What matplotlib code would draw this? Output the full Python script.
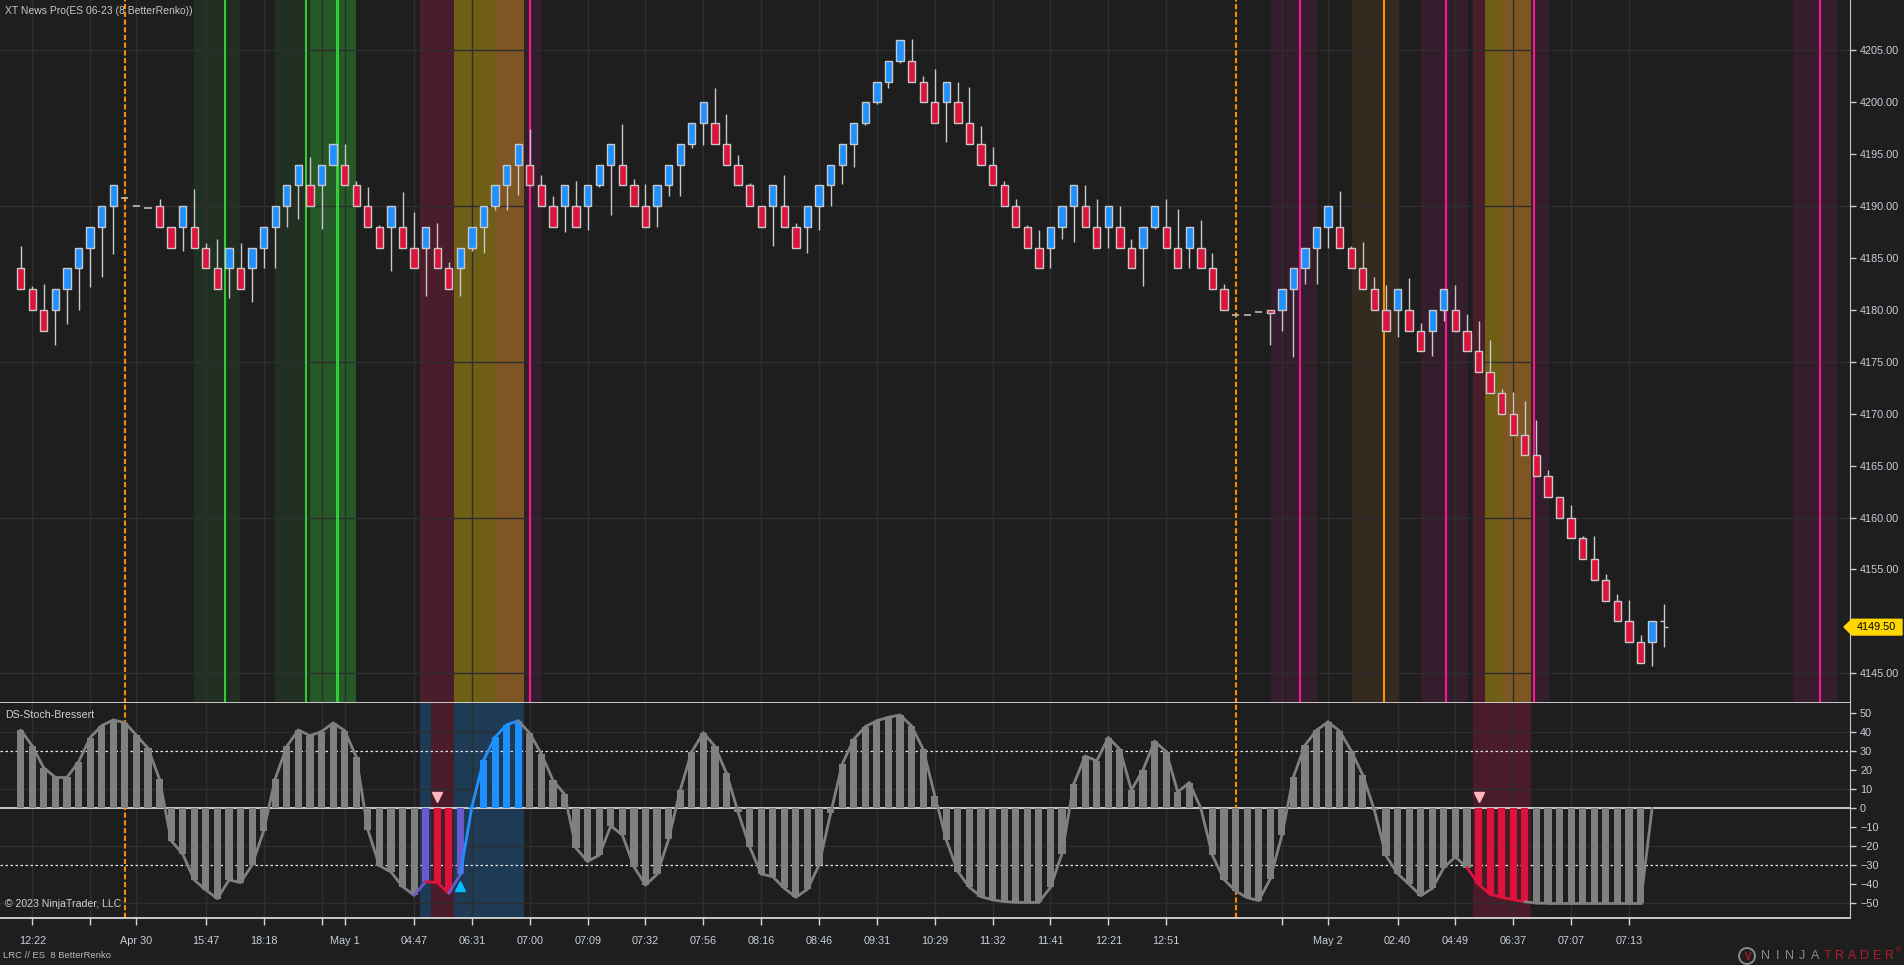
import numpy as np
import matplotlib
matplotlib.use("Agg")
import matplotlib.pyplot as plt
from matplotlib.patches import Rectangle, Polygon, Ellipse
from matplotlib.collections import LineCollection

# renko bricks (ES 06-23, 8 tick BetterRenko)
opens = [4184, 4182, 4180, 4180, 4182, 4184, 4186, 4188, 4190, 4190.8, 4190, 4189.8,
         4190, 4188, 4188, 4188, 4186, 4184, 4184, 4184, 4184, 4186, 4188, 4190, 4192,
         4192, 4192, 4194, 4194, 4192, 4190, 4188, 4188, 4188, 4186, 4186, 4186, 4184,
         4184, 4186, 4188, 4190, 4192, 4194, 4194, 4192, 4190, 4190, 4190, 4190, 4192,
         4194, 4194, 4192, 4190, 4190, 4192, 4194, 4196, 4198, 4198, 4196, 4194, 4192,
         4190, 4190, 4190, 4188, 4188, 4190, 4192, 4194, 4196, 4198, 4200, 4202, 4204,
         4204, 4202, 4200, 4200, 4200, 4198, 4196, 4194, 4192, 4190, 4188, 4186, 4186,
         4188, 4190, 4190, 4188, 4188, 4188, 4186, 4186, 4188, 4188, 4186, 4186, 4186,
         4184, 4182, 4179.5, 4179.5, 4179.8, 4180, 4180, 4182, 4184, 4186, 4188, 4188,
         4186, 4184, 4182, 4180, 4180, 4180, 4178, 4178, 4180, 4180, 4178, 4176, 4174,
         4172, 4170, 4168, 4166, 4164, 4162, 4160, 4158, 4156, 4154, 4152, 4150, 4148,
         4148, 4150]
highs = [4186.2, 4182.3, 4182.5, 4182, 4184, 4186, 4188, 4190, 4192, 4190.8, 4190, 4189.8,
         4190.7, 4188, 4190, 4191.6, 4186.4, 4186.8, 4186, 4186.4, 4186, 4188, 4190, 4192,
         4194, 4194.7, 4194, 4196, 4196, 4192.4, 4191.8, 4188.2, 4190, 4191.4, 4189.4,
         4188, 4188.4, 4184.6, 4186, 4188, 4190, 4192, 4194, 4196, 4197.4, 4193, 4191,
         4192, 4192.4, 4192, 4194, 4196, 4197.9, 4192.6, 4192.1, 4192, 4194, 4196, 4198,
         4200, 4201.4, 4198.9, 4194.9, 4192.2, 4190, 4192, 4193, 4188.4, 4190, 4192, 4194,
         4196, 4198, 4200, 4202, 4204, 4206, 4206.1, 4202.5, 4203.2, 4202, 4202, 4201.5,
         4197.7, 4195.7, 4192.4, 4190.7, 4188.2, 4187.7, 4188, 4190, 4192, 4192, 4190.7,
         4190, 4190, 4186.8, 4188, 4190, 4190.7, 4189.7, 4188, 4188.7, 4185.5, 4182.5,
         4179.5, 4179.5, 4179.8, 4180, 4182, 4184, 4186, 4188, 4190, 4191.5, 4186.2, 4186.5,
         4183.2, 4182.4, 4182, 4183.1, 4178.7, 4180, 4182, 4182.4, 4179.6, 4178.9, 4177.1,
         4172.4, 4172.1, 4171.2, 4169.4, 4164.6, 4162, 4161.2, 4158.2, 4158.2, 4154.6,
         4152.6, 4152.1, 4148.7, 4150, 4151.7]
lows = [4182, 4180, 4178, 4176.6, 4178.6, 4180, 4182.2, 4183.2, 4185.4, 4190.8, 4190, 4189.8,
        4188, 4186, 4185.7, 4186, 4184, 4182, 4181.1, 4182, 4180.8, 4184, 4184, 4188,
        4188.8, 4190, 4187.8, 4194, 4192, 4190, 4188, 4186, 4183.7, 4186, 4184, 4181.3,
        4184, 4182, 4181.3, 4185.7, 4185.5, 4189.6, 4189.6, 4191.1, 4192, 4190, 4188,
        4187.5, 4188, 4187.7, 4191.8, 4189.1, 4192, 4190, 4188, 4188, 4191, 4191, 4195.6,
        4195.9, 4196, 4194, 4192, 4190, 4188, 4186.2, 4188, 4186, 4185.5, 4187.7, 4190,
        4192.1, 4193.8, 4197.8, 4199.8, 4201.4, 4203.8, 4202, 4200, 4198, 4196.2, 4198,
        4196, 4194, 4192, 4190, 4188, 4186, 4184, 4184, 4186.8, 4186.5, 4188, 4186, 4186,
        4186, 4184, 4182.3, 4187.8, 4186, 4184, 4184, 4184, 4182, 4180, 4179.5, 4179.5,
        4179.8, 4176.6, 4178, 4175.5, 4182.5, 4182.5, 4186, 4186, 4184, 4182, 4180, 4178,
        4177.4, 4178, 4176, 4175.6, 4178.9, 4178, 4176, 4174, 4172, 4170, 4168, 4166,
        4164, 4162, 4160, 4158, 4156, 4154, 4152, 4150, 4148, 4146, 4145.7, 4147.5]
closes = [4182, 4180, 4178, 4182, 4184, 4186, 4188, 4190, 4192, 4190.8, 4190, 4189.8,
          4188, 4186, 4190, 4186, 4184, 4182, 4186, 4182, 4186, 4188, 4190, 4192, 4194,
          4190, 4194, 4196, 4192, 4190, 4188, 4186, 4190, 4186, 4184, 4188, 4184, 4182,
          4186, 4188, 4190, 4192, 4194, 4196, 4192, 4190, 4188, 4192, 4188, 4192, 4194,
          4196, 4192, 4190, 4188, 4192, 4194, 4196, 4198, 4200, 4196, 4194, 4192, 4190,
          4188, 4192, 4188, 4186, 4190, 4192, 4194, 4196, 4198, 4200, 4202, 4204, 4206,
          4202, 4200, 4198, 4202, 4198, 4196, 4194, 4192, 4190, 4188, 4186, 4184, 4188,
          4190, 4192, 4188, 4186, 4190, 4186, 4184, 4188, 4190, 4186, 4184, 4188, 4184,
          4182, 4180, 4179.5, 4179.5, 4179.8, 4179.75, 4182, 4184, 4186, 4188, 4190, 4186,
          4184, 4182, 4180, 4178, 4182, 4178, 4176, 4180, 4182, 4178, 4176, 4174, 4172,
          4170, 4168, 4166, 4164, 4162, 4160, 4158, 4156, 4154, 4152, 4150, 4148, 4146,
          4150, 4149.5]
last_price = 4149.50

# DS-Stoch-Bressert values (last bar still open -> nan)
stoch = [41.2, 32.8, 21.2, 16.3, 16.3, 24.4, 37.2, 43.5, 46.5, 45.1, 38.4, 31.6, 15.3,
         -17, -24, -37.7, -43, -47.5, -37.7, -39.1, -29.8, -11.8, 15.6, 32.6, 41.2, 38.2,
         40.4, 44.9, 40.9, 27, -11.2, -30.2, -33.5, -41.2, -45.8, -38.6, -39.1, -44.7,
         -34.7, 0.9, 25.3, 37.4, 43.9, 46.1, 39.5, 28.6, 14.8, 7.4, -21, -28, -24.6, -9.3,
         -14, -30.7, -40.4, -34.7, -16.3, 9.6, 29.8, 39.8, 32.6, 18.4, -2, -20.2, -34.6,
         -36, -42.1, -46.8, -42.6, -29.8, -2.6, 23.2, 36.3, 43, 46.1, 47.9, 49.1, 43.3,
         31.1, 6.7, -16.7, -33.3, -41.6, -46.5, -48.2, -49.1, -49.5, -49.6, -49.5, -41.6,
         -23.8, 12.6, 27.5, 25, 37.2, 31, 9.6, 20.2, 35.3, 29.8, 8.6, 13.5, 0, -24.8,
         -37.5, -43.5, -47, -48.6, -37.1, -14.2, 16.5, 33.2, 41.1, 45.5, 40.6, 30.2, 17.4,
         -1, -24.9, -34.4, -40, -46, -42.2, -31.2, -25.5, -31.2, -40, -45.2, -46.9, -48.1,
         -49.2, -49.9, -50, -50, -50, -50, -50, -50, -50, -50, -50, 0, np.nan]
purple_bars = [35, 38]
red_bars = [36, 37, 126, 127, 128, 129, 130]
blue_bars = [39, 40, 41, 42, 43]
sell_marks = [36, 126]
buy_marks = [38]

tick_pos = [1, 6, 10, 16, 21, 26, 28, 34, 39, 44, 49, 54, 59, 64, 69, 74, 79, 84, 89,
            94, 99, 109, 113, 119, 124, 129, 134, 139]
tick_labels = ["12:22", "", "Apr 30", "15:47", "18:18", "", "May 1", "04:47", "06:31",
               "07:00", "07:09", "07:32", "07:56", "08:16", "08:46", "09:31", "10:29",
               "11:32", "11:41", "12:21", "12:51", "", "May 2", "02:40", "04:49",
               "06:37", "07:07", "07:13"]

# news zones (bar index from, to, colour)
zones = [(14.98, 18.95, "#212f22"), (22.0, 25.0, "#212f22"), (25.0, 28.98, "#265928"),
         (34.5, 37.45, "#4b1c29"), (37.45, 41.0, "#6e5e16"), (41.0, 43.5, "#7d5624"),
         (43.5, 44.97, "#341e2d"), (108.07, 112.0, "#341e2d"), (115.04, 119.0, "#342a1e"),
         (121.0, 125.07, "#341e2d"), (125.5, 126.6, "#4b1c29"), (126.6, 128.0, "#6e5e16"),
         (128.0, 130.5, "#7d5624"), (130.5, 132.1, "#341e2d"), (153.2, 157.0, "#341e2d")]
news_lines = [(17.66, "#32cd32", 1.5), (24.66, "#32cd32", 1.5), (27.37, "#32cd32", 2.2),
              (43.99, "#ff1493", 1.5), (110.55, "#ff1493", 1.5), (117.8, "#ff8c00", 1.5),
              (123.2, "#ff1493", 1.5), (130.77, "#ff1493", 1.5), (155.5, "#ff1493", 1.5)]
session_breaks = [9, 105.04]
osc_zones = [(34.5, 43.46, "#1f3a55"), (35.46, 37.41, "#4a1c2a"), (125.5, 130.5, "#4a1c2a")]

BG = "#1e1e1e"
GRID = "#2e2e2e"
TXT = "#c8d0da"
W, H = 1904, 965

fig = plt.figure(figsize=(W / 100, H / 100), dpi=100, facecolor=BG)
plt.rcParams['font.family'] = ['Liberation Sans', 'DejaVu Sans']

ax = fig.add_axes([0, 1 - 703.3 / H, 1850.3 / W, 703.3 / H], facecolor=BG)
ax2 = fig.add_axes([0, 1 - 917.7 / H, 1850.3 / W, (917.7 - 703.3) / H], facecolor=BG)

xmin, xmax = -1.79, 158.13
n = len(closes)
x = np.arange(n)

# ---- price panel
ax.set_xlim(xmin, xmax)
ax.set_ylim(4142.11, 4209.85)
for x0, x1, c in zones:
    ax.axvspan(x0, x1, color=c, lw=0, zorder=0.5)
for yv in range(4145, 4206, 15):
    ax.axhline(yv, color=GRID, lw=1, zorder=1)
for tp in tick_pos:
    ax.axvline(tp, color=GRID, lw=1, zorder=1)
for xl, c, lw in news_lines:
    ax.axvline(xl, color=c, lw=lw, zorder=2)

bw = 0.63
for i in range(n - 1):
    o, h, l, c = opens[i], highs[i], lows[i], closes[i]
    if o == c:
        ax.hlines(o, i - bw / 2, i + bw / 2, color="#c8c8c8", lw=1.1, zorder=3)
        continue
    ax.vlines(i, l, h, color="#c8c8c8", lw=1, zorder=3)
    col = "#1e90ff" if c > o else "#dc143c"
    ax.add_patch(Rectangle((i - bw / 2, min(o, c)), bw, abs(c - o), facecolor=col,
                           edgecolor="#c8c8c8", lw=1, zorder=4))
# open bar as OHLC
i = n - 1
ax.vlines(i, lows[i], highs[i], color="#c8c8c8", lw=1, zorder=3)
ax.hlines(opens[i], i - 0.35, i, color="#c8c8c8", lw=1, zorder=3)
ax.hlines(closes[i], i, i + 0.35, color="#c8c8c8", lw=1, zorder=3)

ax.yaxis.tick_right()
pticks = np.arange(4145, 4206, 5)
ax.set_yticks(pticks)
# the 4150 label sits under the last-price tag
ax.set_yticklabels(["" if v == 4150 else "%.2f" % v for v in pticks])
ax.tick_params(axis="y", direction="out", length=4, width=1, color="#c8c8c8",
               labelcolor=TXT, labelsize=7.8, pad=3)
ax.set_xticks([])
for s in ["top", "left"]:
    ax.spines[s].set_visible(False)
ax.spines["right"].set_color("#c8c8c8")
ax.spines["bottom"].set_color("#d8d8d8")
ax.spines["bottom"].set_linewidth(1.3)

# ---- stochastic panel
ax2.set_xlim(xmin, xmax)
ax2.set_ylim(-57.58, 55.26)
for x0, x1, c in osc_zones:
    ax2.axvspan(x0, x1, color=c, lw=0, zorder=0.5)
for yv in [40, 10, -20, -50]:
    ax2.axhline(yv, color=GRID, lw=1, zorder=1)
for tp in tick_pos:
    ax2.axvline(tp, color=GRID, lw=1, zorder=1)

cols = []
for i in range(n):
    if i in purple_bars:
        cols.append("#6a5acd")
    elif i in red_bars:
        cols.append("#dc143c")
    elif i in blue_bars:
        cols.append("#1e90ff")
    else:
        cols.append("#808080")
vals = np.array(stoch, dtype=float)
ax2.bar(x, np.nan_to_num(vals), width=0.62, color=cols, lw=0, zorder=3)
segs, segc = [], []
for i in range(n - 1):
    if np.isnan(vals[i]) or np.isnan(vals[i + 1]):
        continue
    segs.append([(i, vals[i]), (i + 1, vals[i + 1])])
    segc.append(cols[i + 1])
ax2.add_collection(LineCollection(segs, colors=segc, linewidths=2.0, zorder=4,
                                  capstyle="round", joinstyle="round"))
ax2.axhline(0, color="#e6e6e6", lw=1.2, zorder=2)
for yv in [30, -30]:
    ax2.axhline(yv, color="#e6e6e6", lw=0.9, ls=(0, (2, 2)), zorder=2)
ax2.plot(sell_marks, [6] * len(sell_marks), ls="none", marker="v", ms=7,
         color="#ffb6c1", zorder=5)
ax2.plot(buy_marks, [-41] * len(buy_marks), ls="none", marker="^", ms=7,
         color="#00bfff", zorder=5)

ax2.yaxis.tick_right()
ax2.set_yticks(np.arange(-50, 51, 10))
ax2.tick_params(axis="y", direction="out", length=4, width=1, color="#c8c8c8",
                labelcolor=TXT, labelsize=7.8, pad=3)
ax2.set_xticks(tick_pos)
ax2.set_xticklabels(tick_labels)
ax2.tick_params(axis="x", direction="out", length=5, width=1, color="#d8d8d8",
                labelcolor=TXT, labelsize=7.8, pad=8)
ax2.spines["left"].set_visible(False)
ax2.spines["top"].set_visible(False)
ax2.spines["right"].set_color("#c8c8c8")
ax2.spines["bottom"].set_color("#d8d8d8")
ax2.spines["bottom"].set_linewidth(1.3)

# session breaks span both panels
for sb in session_breaks:
    for a in (ax, ax2):
        a.axvline(sb, color="#ff8c00", lw=1.5, ls=(0, (2.5, 1.2)), zorder=2.5)

# ---- texts
def ftxt(px, py, s, **kw):
    fig.text(px / W, 1 - py / H, s, **kw)

ftxt(5, 11, "XT News Pro(ES 06-23 (8 BetterRenko))", color="#c8c8c8", fontsize=7.5,
     va="center")
ftxt(5, 715, "DS-Stoch-Bressert", color="#d0d0d0", fontsize=7.7, va="center")
ftxt(5, 904, "\u00a9 2023 NinjaTrader, LLC", color="#d0d0d0", fontsize=7.6, va="center")
ftxt(3, 956, "LRC // ES  8 BetterRenko", color="#b8b8b8", fontsize=6.8, va="center")

# NinjaTrader logo, letters spaced out
logo = "NINJATRADER"
for k, ch in enumerate(logo):
    ftxt(1765 + k * 12.45, 956, ch, color="#8a8a8a" if k < 5 else "#b01c2a",
         fontsize=9, ha="center", va="center")
ftxt(1899, 951, "\u00ae", color="#b01c2a", fontsize=5, ha="center", va="center")
fig.patches.append(Ellipse((1747 / W, 1 - 956 / H), 16 / W, 16 / H,
                           transform=fig.transFigure, facecolor="none",
                           edgecolor="#8a8a8a", lw=1.4))
ftxt(1748, 957, "V", color="#b01c2a", fontsize=7, ha="center", va="center",
     fontweight="bold")

# last price tag
tag = [(1844, 627), (1852, 619.3), (1902, 619.3), (1902, 635), (1852, 635)]
fig.patches.append(Polygon([(px / W, 1 - py / H) for px, py in tag], closed=True,
                           transform=fig.transFigure, facecolor="#ffd700",
                           edgecolor="#ffd700"))
ftxt(1857, 627.5, "%.2f" % last_price, color="black", fontsize=7.8, va="center")

fig.savefig("out.png", dpi=100, facecolor=BG)
